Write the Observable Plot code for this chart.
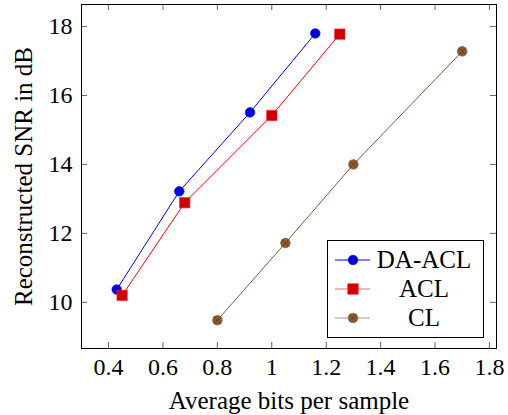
<!DOCTYPE html>
<html>
<head>
<meta charset="utf-8">
<script src="https://cdn.jsdelivr.net/npm/d3@7"></script>
<script src="https://cdn.jsdelivr.net/npm/@observablehq/plot@0.6"></script>
<style>
  html, body { margin: 0; padding: 0; background: #fff; }
</style>
</head>
<body>
<div id="chart"></div>
<div id="spacer" style="height:0;overflow:hidden"></div>
<script>
// ---- data ----
const seriesNames = ["DA-ACL", "ACL", "CL"];
const daaclBits = [0.43, 0.66, 0.92, 1.16];
const daaclSNR  = [10.37, 13.22, 15.51, 17.80];
const aclBits   = [0.45, 0.68, 1.00, 1.25];
const aclSNR    = [10.20, 12.89, 15.42, 17.78];
const clBits    = [0.80, 1.05, 1.30, 1.70];
const clSNR     = [9.48, 11.72, 14.00, 17.28];
const xTicks = [0.4, 0.6, 0.8, 1.0, 1.2, 1.4, 1.6, 1.8];
const yTicks = [10, 12, 14, 16, 18];
const xLabel = "Average bits per sample";
const yLabel = "Reconstructed SNR in dB";

const toRows = (xs, ys, name) => xs.map((x, i) => ({x, y: ys[i], name}));
const daacl = toRows(daaclBits, daaclSNR, seriesNames[0]);
const acl = toRows(aclBits, aclSNR, seriesNames[1]);
const cl = toRows(clBits, clSNR, seriesNames[2]);

const styles = {
  "DA-ACL": {line: "#0000ff", fill: "#0000e0", stroke: "#0000ff", symbol: "circle", r: 4.8},
  "ACL":    {line: "#ff0000", fill: "#d00000", stroke: "#ff3030", symbol: "square", r: 5.9},
  "CL":     {line: "#7f5b3b", fill: "#8a5a2e", stroke: "#7a5030", symbol: "circle", r: 4.8}
};

const W = 508, H = 415;
const mL = 81, mR = 12, mT = 4, mB = 67;
const plotH = H - mT - mB;
const tickLen = 6;
const font = "Liberation Serif";

const fmtX = d => String(+d.toFixed(1));

const chart = Plot.plot({
  width: W, height: H,
  marginLeft: mL, marginRight: mR, marginTop: mT, marginBottom: mB,
  style: {fontFamily: font, fontSize: "23px"},
  x: {domain: [0.3006, 1.826]},
  y: {domain: [8.66, 18.64]},
  marks: [
    Plot.tickX(xTicks, {x: d => d, insetTop: plotH - tickLen, stroke: "#555", strokeWidth: 0.9}),
    Plot.tickX(xTicks, {x: d => d, insetBottom: plotH - tickLen, stroke: "#555", strokeWidth: 0.9}),
    Plot.tickY(yTicks, {y: d => d, insetRight: (W - mL - mR) - tickLen, stroke: "#555", strokeWidth: 0.9}),
    Plot.tickY(yTicks, {y: d => d, insetLeft: (W - mL - mR) - tickLen, stroke: "#555", strokeWidth: 0.9}),
    Plot.axisX(xTicks, {tickSize: 0, tickPadding: 9, tickFormat: fmtX, label: null, fontSize: 24}),
    Plot.axisY(yTicks, {tickSize: 0, tickPadding: 9, tickFormat: d => String(d), label: null, fontSize: 24}),
    ...[daacl, acl, cl].map(data => Plot.line(data, {x: "x", y: "y", stroke: styles[data[0].name].line, strokeWidth: 1})),
    ...[daacl, acl, cl].map(data => {
      const s = styles[data[0].name];
      return Plot.dot(data, {x: "x", y: "y", symbol: s.symbol, r: s.r, fill: s.fill, stroke: s.stroke, strokeWidth: 0.6});
    }),
    Plot.dot(cl, {x: "x", y: "y", symbol: "times", r: 3.6, stroke: "#5a3818", strokeWidth: 0.7}),
    Plot.frame({stroke: "#000", strokeWidth: 1}),
    Plot.text([xLabel], {frameAnchor: "bottom", textAnchor: "middle", lineAnchor: "middle", dy: 52, fontSize: 25}),
    Plot.text([yLabel], {frameAnchor: "left", textAnchor: "middle", lineAnchor: "middle", rotate: -90, dx: -58, fontSize: 25})
  ]
});

document.getElementById("chart").appendChild(chart);

// ---- legend (drawn relative to the plot frame) ----
const svg = d3.select(chart);
const frameRight = W - mR, frameBottom = H - mB;
const boxW = 156, boxH = 97;
const bx = frameRight - 13 - boxW, by = frameBottom - 11 - boxH;
const lg = svg.append("g").attr("font-size", 25);
lg.append("rect").attr("x", bx + 0.5).attr("y", by + 0.5).attr("width", boxW).attr("height", boxH)
  .attr("fill", "#fff").attr("stroke", "#000").attr("stroke-width", 1);
seriesNames.forEach((name, i) => {
  const s = styles[name];
  const cy = by + 20 + i * 29;
  const lx0 = bx + 8, lx1 = bx + 43, mx = bx + 26;
  lg.append("line").attr("x1", lx0).attr("x2", lx1).attr("y1", cy).attr("y2", cy)
    .attr("stroke", s.line).attr("stroke-width", 1.2).attr("stroke-opacity", name === "DA-ACL" ? 1 : 0.6);
  if (s.symbol === "square") {
    const side = s.r * Math.sqrt(Math.PI);
    lg.append("rect").attr("x", mx - side / 2).attr("y", cy - side / 2).attr("width", side).attr("height", side)
      .attr("fill", s.fill).attr("stroke", s.stroke).attr("stroke-width", 0.6);
  } else {
    lg.append("circle").attr("cx", mx).attr("cy", cy).attr("r", s.r).attr("fill", s.fill)
      .attr("stroke", s.stroke).attr("stroke-width", 0.6);
  }
  if (name === "CL") {
    const d = 3.2;
    lg.append("path").attr("d", `M${mx - d},${cy - d}L${mx + d},${cy + d}M${mx - d},${cy + d}L${mx + d},${cy - d}`)
      .attr("stroke", "#5a3818").attr("stroke-width", 0.7);
  }
  lg.append("text").attr("x", bx + 97).attr("y", cy).attr("dy", "0.33em").attr("text-anchor", "middle").text(name);
});

// apply the serif face directly on every text element
svg.selectAll("text").attr("font-family", font).style("font-family", font);
</script>
</body>
</html>
